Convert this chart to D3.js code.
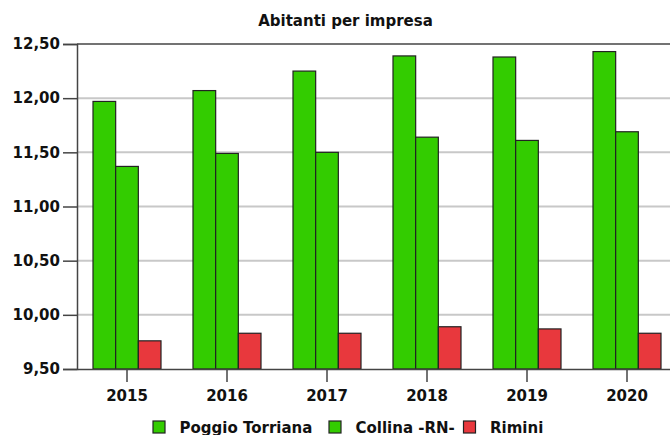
<!DOCTYPE html>
<html><head><meta charset="utf-8">
<script src="https://cdn.jsdelivr.net/npm/d3@7"></script>
<style>body{margin:0;background:#fff}svg{display:block;font-family:"DejaVu Sans",sans-serif}</style>
</head><body><svg id="c" width="670" height="435"></svg>
<script>
const years = ["2015","2016","2017","2018","2019","2020"];
const seriesNames = ["Poggio Torriana","Collina -RN-","Rimini"];
const poggio = [11.97,12.07,12.25,12.39,12.38,12.43];
const collina = [11.37,11.49,11.50,11.64,11.61,11.69];
const rimini = [9.76,9.83,9.83,9.89,9.87,9.83];
const colors = ["#33cc00","#33cc00","#e8383d"];
const yTicks = [9.5,10,10.5,11,11.5,12,12.5];
const title = "Abitanti per impresa";

const series = [poggio, collina, rimini];
const svg = d3.select("#c");
const m = {l:77, t:44, b:369, r:677};
const x = d3.scaleBand().domain(years).range([m.l, m.r]).paddingInner(0.32).paddingOuter(0.16);
const xs = d3.scaleBand().domain(d3.range(3)).range([0, x.bandwidth()]);
const y = d3.scaleLinear().domain([9.5,12.5]).range([m.b, m.t]);
const fmt = v => d3.format(".2f")(v).replace(".", ",");
const FS = 15;

// gridlines
svg.append("g").selectAll("line").data(yTicks.filter(t=>t>9.5&&t<12.5)).join("line")
  .attr("x1", m.l).attr("x2", 670).attr("y1", d=>y(d)).attr("y2", d=>y(d))
  .attr("stroke", "#c8c8c8").attr("stroke-width", 2);
// top line
svg.append("line").attr("x1", m.l).attr("x2", 670).attr("y1", y(12.5)).attr("y2", y(12.5))
  .attr("stroke", "#444").attr("stroke-width", 1.5);

// bars
const g = svg.append("g");
series.forEach((s, si) => {
  g.append("g").selectAll("rect").data(s).join("rect")
    .attr("x", (d,i)=>x(years[i]) + xs(si))
    .attr("y", d=>y(d))
    .attr("width", xs.bandwidth())
    .attr("height", d=>y(9.5)-y(d))
    .attr("fill", colors[si]).attr("stroke", "#222").attr("stroke-width", 1.2);
});

// y axis
const ya = svg.append("g").attr("transform", `translate(${m.l},0)`)
  .call(d3.axisLeft(y).tickValues(yTicks).tickFormat(fmt).tickSize(14).tickPadding(3));
ya.select(".domain").attr("stroke", "#444").attr("stroke-width", 1.5);
ya.selectAll(".tick line").attr("stroke", "#444").attr("stroke-width", 1.5);
ya.selectAll("text").attr("font-family", "DejaVu Sans").attr("font-weight", "bold").attr("font-size", FS).attr("fill", "#111");

// x axis
const xa = svg.append("g").attr("transform", `translate(0,${m.b})`)
  .call(d3.axisBottom(x).tickSize(13).tickPadding(8).tickSizeOuter(0));
xa.select(".domain").attr("stroke", "#444").attr("stroke-width", 1.5);
xa.selectAll(".tick line").attr("stroke", "#444").attr("stroke-width", 1.5);
xa.selectAll("text").attr("font-family", "DejaVu Sans").attr("font-weight", "bold").attr("font-size", FS).attr("fill", "#111");

// title
svg.append("text").attr("x", 345.5).attr("y", 26).attr("text-anchor", "middle")
  .attr("font-weight", "bold").attr("font-size", FS).attr("fill", "#111").text(title);

// legend
const lg = svg.append("g").attr("transform", "translate(153,421)");
const lgx = [0, 176, 310.5];
seriesNames.forEach((n, i) => {
  const it = lg.append("g").attr("transform", `translate(${lgx[i]},0)`);
  it.append("rect").attr("width", 12).attr("height", 12).attr("fill", colors[i]).attr("stroke", "#222").attr("stroke-width", 1.2);
  it.append("text").attr("x", 26.5).attr("y", 11.5).attr("font-weight", "bold").attr("font-size", FS).attr("fill", "#111").text(n);
});
</script></body></html>
